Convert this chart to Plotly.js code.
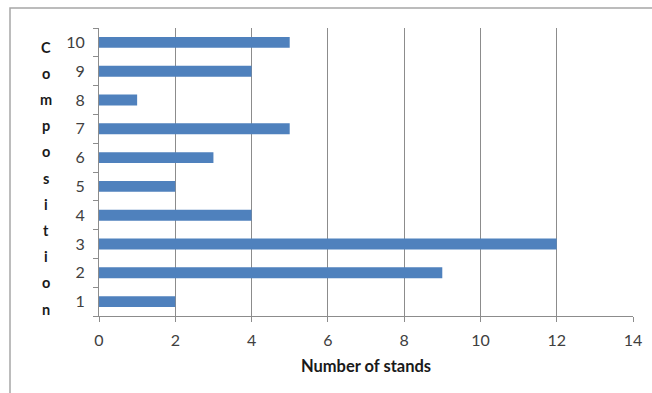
<!DOCTYPE html>
<html>
<head>
<meta charset="utf-8">
<script src="https://cdn.plot.ly/plotly-3.0.1.min.js"></script>
<style>html,body{margin:0;padding:0;background:#fff;}#chart{width:652px;height:393px;}</style>
</head>
<body>
<div id="chart"></div>
<script>
const categories = ['1','2','3','4','5','6','7','8','9','10'];
const stands = [2, 9, 12, 4, 2, 3, 5, 1, 4, 5];
const xTicks = [0, 2, 4, 6, 8, 10, 12, 14];
const yTitle = 'Composition';
const xTitle = 'Number of stands';

const W = 652, H = 393;
const M = {l: 99, r: 19, t: 28, b: 77};
const pw = W - M.l - M.r, ph = H - M.t - M.b;
const px = v => (v - M.l) / pw;
const py = v => 1 - (v - M.t) / ph;

const letters = yTitle.split('');
const annotations = letters.map((ch, i) => ({
  text: '<b>' + ch + '</b>', xref: 'paper', yref: 'paper',
  x: px(46), y: py(47 + i * 26.2), xanchor: 'center', yanchor: 'middle',
  showarrow: false, font: {family: 'Lato, "Open Sans", sans-serif', size: 14.5, color: '#1a1a1a'}
}));

const data = [{
  type: 'bar', orientation: 'h', y: categories, x: stands,
  marker: {color: '#4F81BD'}, width: 0.38, hoverinfo: 'x+y'
}];

const layout = {
  width: W, height: H, margin: M,
  paper_bgcolor: '#fff', plot_bgcolor: '#fff', showlegend: false,
  font: {family: 'Lato, "Open Sans", sans-serif', size: 16, color: '#404040'},
  xaxis: {
    range: [0, 14], tickvals: xTicks, ticktext: xTicks.map(String),
    showgrid: true, gridcolor: '#8c8c8c', gridwidth: 1, zeroline: false,
    showline: true, linecolor: '#8c8c8c', linewidth: 1,
    ticks: 'outside', ticklen: 5, tickcolor: '#8c8c8c',
    tickfont: {size: 16, color: '#404040'}, ticklabelstandoff: 5,
    title: {text: '<b>' + xTitle + '</b>', font: {size: 16.5, color: '#1a1a1a'}, standoff: 12}
  },
  yaxis: {
    type: 'category', categoryorder: 'array', categoryarray: categories,
    showgrid: false, zeroline: false, showline: true, linecolor: '#8c8c8c', linewidth: 1,
    ticks: 'outside', ticklen: 5, tickcolor: '#8c8c8c', tickson: 'boundaries',
    tickfont: {size: 16, color: '#404040'}, ticklabelstandoff: 10
  },
  annotations: annotations,
  shapes: [{
    type: 'rect', xref: 'paper', yref: 'paper', layer: 'below',
    x0: px(10), x1: px(700), y0: py(8), y1: py(450),
    line: {color: '#a6a6a6', width: 1.5}, fillcolor: 'rgba(0,0,0,0)'
  }]
};

Plotly.newPlot('chart', data, layout, {displayModeBar: false, staticPlot: true});
</script>
</body>
</html>
